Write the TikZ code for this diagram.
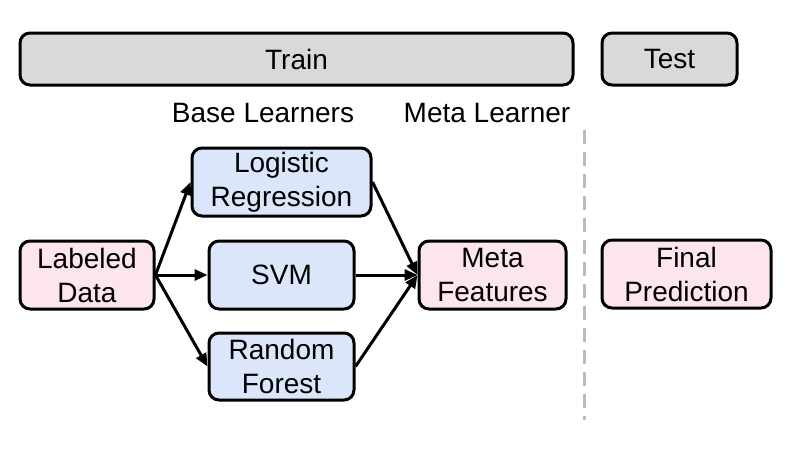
\documentclass[tikz,border=0pt]{standalone}
\usepackage{fontspec}
\setmainfont{Liberation Sans}
\usetikzlibrary{arrows.meta}
\definecolor{boxgray}{HTML}{D9D9D9}
\definecolor{boxblue}{HTML}{DCE6FA}
\definecolor{boxpink}{HTML}{FDE5EE}
\definecolor{dashgray}{HTML}{BBBBBB}
\begin{document}
\begin{tikzpicture}[x=0.5pt,y=-0.5pt,
  box/.style={draw=black,line width=1.5pt,rounded corners=5pt,align=center,inner sep=0pt,
    font=\fontsize{14}{17}\selectfont},
  graybox/.style={box,fill=boxgray},
  bluebox/.style={box,fill=boxblue},
  pinkbox/.style={box,fill=boxpink},
  lbl/.style={font=\fontsize{14}{17}\selectfont,inner sep=0pt},
  arr/.style={line width=1.5pt,-{Triangle[length=6.5pt,width=5.5pt]}},
  sep/.style={dashgray,line width=1.5pt,dash pattern=on 7pt off 4pt}]
\path[use as bounding box] (0,0) rectangle (796,451);
\node[graybox,minimum width=276.5pt,minimum height=26pt] (train) at (296.5,59) {Train};
\node[graybox,minimum width=67.5pt,minimum height=26pt] (test) at (669.5,59) {Test};
\node[lbl] (base) at (263,113) {Base Learners};
\node[lbl] (meta) at (487,113) {Meta Learner};
\node[bluebox,minimum width=89.5pt,minimum height=34pt] (lr) at (281.5,182) {Logistic\\Regression};
\node[bluebox,minimum width=72.5pt,minimum height=34pt] (svm) at (281.5,275) {SVM};
\node[bluebox,minimum width=72.5pt,minimum height=33.5pt] (rf) at (281.5,366.5) {Random\\Forest};
\node[pinkbox,minimum width=67pt,minimum height=34pt] (ld) at (87,275) {Labeled\\Data};
\node[pinkbox,minimum width=73.5pt,minimum height=34pt] (mf) at (492.5,275) {Meta\\Features};
\node[pinkbox,minimum width=84.5pt,minimum height=34pt] (fp) at (686.5,274) {Final\\Prediction};
\coordinate (septop) at (584,130);
\coordinate (sepbot) at (584,420);
\draw[sep] (septop) -- (sepbot);
\draw[arr] (ld.east) -- (lr.west);
\draw[arr] (ld.east) -- (svm.west);
\draw[arr] (ld.east) -- (rf.west);
\draw[arr] (lr.east) -- (mf.west);
\draw[arr] (svm.east) -- (mf.west);
\draw[arr] (rf.east) -- (mf.west);
\end{tikzpicture}
\end{document}
